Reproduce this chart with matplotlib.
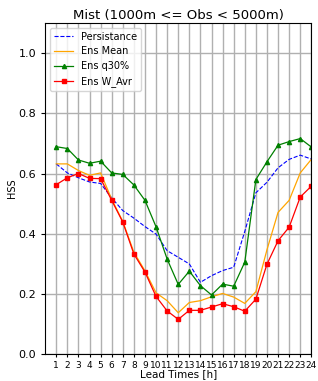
import matplotlib
matplotlib.use("Agg")
import matplotlib.pyplot as plt

lead_times = list(range(1, 25))

persistance = [0.632, 0.602, 0.586, 0.572, 0.567, 0.519, 0.477, 0.452, 0.424, 0.399,
               0.344, 0.322, 0.300, 0.239, 0.261, 0.278, 0.289, 0.408, 0.536, 0.571,
               0.619, 0.647, 0.661, 0.648]
ens_mean = [0.632, 0.632, 0.610, 0.594, 0.602, 0.515, 0.441, 0.339, 0.277, 0.204,
            0.178, 0.138, 0.172, 0.178, 0.191, 0.202, 0.190, 0.169, 0.208, 0.347,
            0.471, 0.511, 0.602, 0.647]
ens_q30 = [0.689, 0.683, 0.645, 0.634, 0.641, 0.602, 0.597, 0.562, 0.511, 0.423,
           0.316, 0.232, 0.276, 0.228, 0.197, 0.233, 0.226, 0.306, 0.580, 0.639,
           0.694, 0.706, 0.716, 0.688]
ens_wavr = [0.563, 0.586, 0.600, 0.584, 0.583, 0.511, 0.439, 0.333, 0.273, 0.192,
            0.144, 0.116, 0.146, 0.146, 0.157, 0.168, 0.158, 0.143, 0.183, 0.299,
            0.377, 0.422, 0.522, 0.558]

fig = plt.figure(figsize=(3.18, 3.81), dpi=100)
ax = fig.add_axes([0.142, 0.070, 0.837, 0.870])

ax.plot(lead_times, persistance, '--', color='blue', linewidth=0.8, label='Persistance')
ax.plot(lead_times, ens_mean, '-', color='orange', linewidth=0.9, label='Ens Mean')
ax.plot(lead_times, ens_q30, '-^', color='green', linewidth=0.9, markersize=3, label='Ens q30%')
ax.plot(lead_times, ens_wavr, '-s', color='red', linewidth=0.9, markersize=3, label='Ens W_Avr')

ax.set_xlim(0, 24)
ax.set_ylim(0, 1.1)
ax.set_xticks(lead_times)
ax.set_xticklabels([str(t) for t in lead_times], fontsize=6.5)
ax.set_yticks([0.0, 0.2, 0.4, 0.6, 0.8, 1.0])
ax.tick_params(axis='y', labelsize=8, length=3)
ax.tick_params(axis='x', length=2.5, pad=2)
ax.grid(True, color='#b0b0b0', linewidth=1)

ax.set_xlabel('Lead Times [h]', fontsize=7.5, labelpad=0)
ax.set_ylabel('HSS', fontsize=7, labelpad=1)
ax.set_title('Mist (1000m <= Obs < 5000m)', fontsize=9.5, pad=3)
ax.legend(loc='upper left', fontsize=7)

fig.savefig('out.png', dpi=100)
